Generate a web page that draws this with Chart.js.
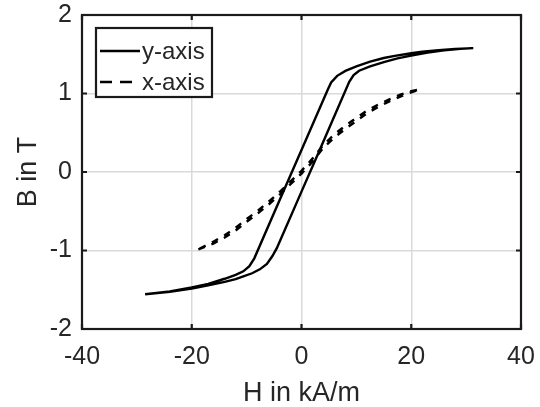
<!DOCTYPE html>
<html>
<head>
<meta charset="utf-8">
<script src="https://cdn.jsdelivr.net/npm/chart.js@4/dist/chart.umd.min.js"></script>
<style>
  html, body { margin: 0; padding: 0; background: #ffffff; }
  #c { display: block; }
</style>
</head>
<body>
<canvas id="c" width="540" height="407"></canvas>
<script>
// Hysteresis loop measured along the y-axis (closed loop: descending then ascending branch)
const yLoopH = [31.3, 28, 25, 22, 20, 17, 15, 12.5, 10, 8, 6.5, 5.4, 4.8, 0, -4, -8.6, -9.5, -10.6, -12, -14, -17, -20, -24, -28.5,
                -24, -20, -17, -14, -12, -10.6, -9, -7.6, -6.3, -5.3, -4.5, 0, 3, 8.7, 9.5, 10.5, 12.5, 15, 17.5, 20, 23, 26, 29, 31.3];
const yLoopB = [1.578, 1.568, 1.553, 1.532, 1.513, 1.48, 1.452, 1.405, 1.345, 1.288, 1.225, 1.14, 1.05, 0.28, -0.36, -1.1, -1.2, -1.265, -1.31, -1.36, -1.425, -1.47, -1.52, -1.558,
                -1.525, -1.485, -1.445, -1.40, -1.365, -1.33, -1.29, -1.24, -1.17, -1.07, -0.97, -0.25, 0.23, 1.15, 1.235, 1.29, 1.345, 1.40, 1.447, 1.482, 1.52, 1.55, 1.568, 1.578];

// Hysteresis loop measured along the x-axis (narrow loop: ascending then descending branch)
const xLoopH = [-18.8, -16, -14, -12, -10, -8, -6, -4, -2, 0, 2, 4, 6, 8, 10, 12, 14, 16, 18, 20, 21.6,
                20, 18, 16, 14, 12, 10, 8, 6, 4, 2, 0, -2, -4, -6, -8, -10, -12, -14, -16, -18.8];
const xLoopB = [-0.985, -0.91, -0.835, -0.745, -0.635, -0.53, -0.415, -0.29, -0.155, -0.02, 0.13, 0.31, 0.44, 0.55, 0.65, 0.75, 0.83, 0.90, 0.96, 1.015, 1.053,
                1.03, 0.985, 0.925, 0.86, 0.785, 0.69, 0.59, 0.48, 0.345, 0.17, 0.015, -0.12, -0.255, -0.38, -0.495, -0.60, -0.71, -0.805, -0.885, -0.985];

const seriesNames = ['y-axis', 'x-axis'];
const xTicks = [-40, -20, 0, 20, 40];
const yTicks = [-2, -1, 0, 1, 2];
const xTitle = 'H in kA/m';
const yTitle = 'B in T';

const toPoints = (hs, bs) => hs.map((h, i) => ({ x: h, y: bs[i] }));

const FONT = '"Liberation Sans", Arial, Helvetica, sans-serif';
const TEXT = '#262626';

// Box around the axes plus MATLAB-style inward tick marks on all four sides
const framePlugin = {
  id: 'frame',
  afterDatasetsDraw(chart) {
    const { ctx, chartArea: a, scales } = chart;
    ctx.save();
    ctx.strokeStyle = '#1a1a1a';
    ctx.lineWidth = 2.2;
    const tl = 5;
    ctx.beginPath();
    scales.x.ticks.forEach(t => {
      const px = scales.x.getPixelForValue(t.value);
      ctx.moveTo(px, a.bottom); ctx.lineTo(px, a.bottom - tl);
      ctx.moveTo(px, a.top); ctx.lineTo(px, a.top + tl);
    });
    scales.y.ticks.forEach(t => {
      const py = scales.y.getPixelForValue(t.value);
      ctx.moveTo(a.left, py); ctx.lineTo(a.left + tl, py);
      ctx.moveTo(a.right, py); ctx.lineTo(a.right - tl, py);
    });
    ctx.stroke();
    ctx.strokeRect(a.left, a.top, a.right - a.left, a.bottom - a.top);
    ctx.restore();
  }
};

// Boxed legend in the upper-left corner of the axes
const legendPlugin = {
  id: 'boxLegend',
  afterDraw(chart) {
    const { ctx, chartArea: a } = chart;
    const x0 = a.left + 14, y0 = a.top + 13, w = 116, h = 69;
    ctx.save();
    ctx.fillStyle = '#ffffff';
    ctx.fillRect(x0, y0, w, h);
    ctx.strokeStyle = '#1a1a1a';
    ctx.lineWidth = 2.2;
    ctx.strokeRect(x0, y0, w, h);
    ctx.font = '24px ' + FONT;
    ctx.textBaseline = 'middle';
    ctx.fillStyle = TEXT;
    chart.data.datasets.forEach((ds, i) => {
      const yy = y0 + 23 + i * 31;
      ctx.beginPath();
      ctx.setLineDash(ds.borderDash ? [12, 8] : []);
      ctx.strokeStyle = ds.borderColor;
      ctx.lineWidth = ds.borderWidth;
      ctx.moveTo(x0 + 4, yy);
      ctx.lineTo(x0 + 44, yy);
      ctx.stroke();
      ctx.setLineDash([]);
      ctx.fillText(ds.label, x0 + 46, yy + 1);
    });
    ctx.restore();
  }
};

new Chart(document.getElementById('c'), {
  type: 'scatter',
  data: {
    datasets: [
      {
        label: seriesNames[0],
        data: toPoints(yLoopH, yLoopB),
        showLine: true,
        borderColor: '#000000',
        borderWidth: 2.4,
        pointRadius: 0,
        tension: 0,
        fill: false
      },
      {
        label: seriesNames[1],
        data: toPoints(xLoopH, xLoopB),
        showLine: true,
        borderColor: '#000000',
        borderWidth: 2.4,
        borderDash: [7, 7],
        pointRadius: 0,
        tension: 0,
        fill: false
      }
    ]
  },
  options: {
    responsive: false,
    animation: false,
    layout: { padding: { top: 15, right: 19, left: 0, bottom: 0 } },
    plugins: { legend: { display: false }, tooltip: { enabled: false } },
    scales: {
      x: {
        type: 'linear',
        min: xTicks[0],
        max: xTicks[xTicks.length - 1],
        afterBuildTicks: s => { s.ticks = xTicks.map(v => ({ value: v })); },
        afterFit: s => { s.height = 78; s.paddingLeft = 0; s.paddingRight = 0; },
        grid: { color: '#d9d9d9', lineWidth: 1.5, drawTicks: false },
        border: { display: false },
        ticks: { color: TEXT, font: { family: FONT, size: 25 }, padding: 13, maxRotation: 0 },
        title: { display: true, text: xTitle, color: TEXT, font: { family: FONT, size: 27, lineHeight: 1.0 }, padding: 0 }
      },
      y: {
        type: 'linear',
        min: yTicks[0],
        max: yTicks[yTicks.length - 1],
        afterBuildTicks: s => { s.ticks = yTicks.map(v => ({ value: v })); },
        afterFit: s => { s.width = 82; s.paddingTop = 0; s.paddingBottom = 0; },
        grid: { color: '#d9d9d9', lineWidth: 1.5, drawTicks: false },
        border: { display: false },
        ticks: { color: TEXT, font: { family: FONT, size: 25 }, padding: 10 },
        title: { display: true, text: yTitle, color: TEXT, font: { family: FONT, size: 27, lineHeight: 1.1 }, padding: { top: 14, bottom: 0 } }
      }
    }
  },
  plugins: [framePlugin, legendPlugin]
});
</script>
</body>
</html>
